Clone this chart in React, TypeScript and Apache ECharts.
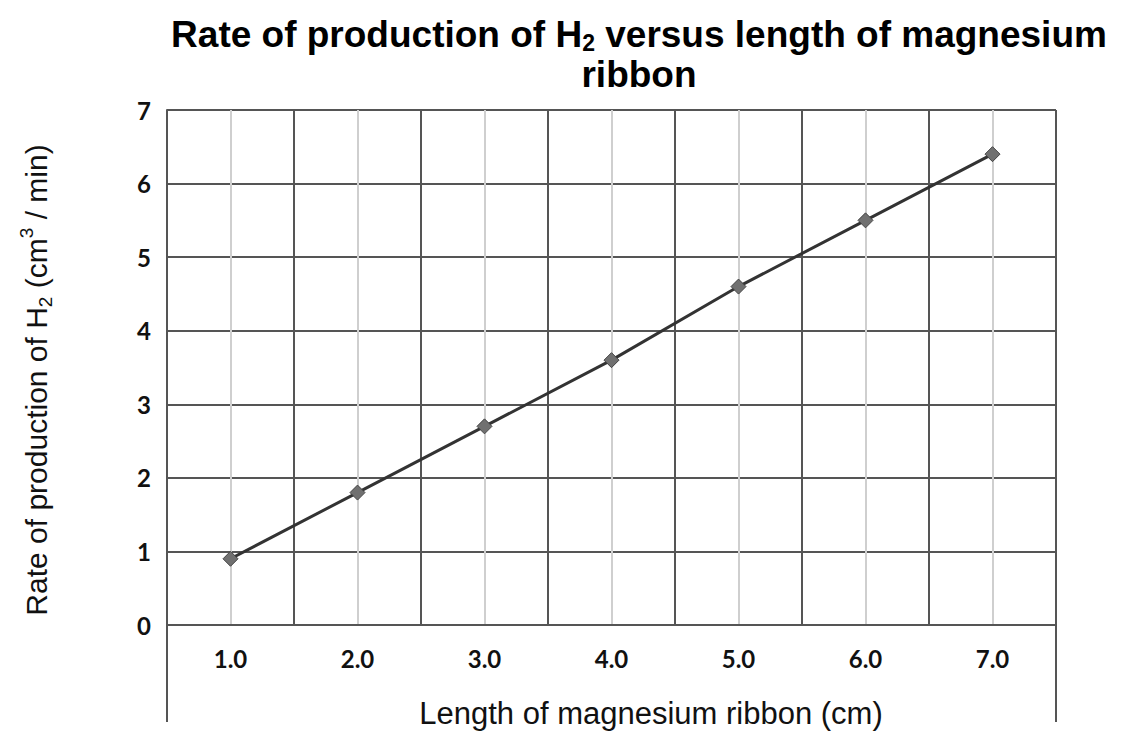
import React, { useEffect, useRef } from "react";
import * as echarts from "echarts";

const lengths = [1, 2, 3, 4, 5, 6, 7];
const rates = [0.9, 1.8, 2.7, 3.6, 4.6, 5.5, 6.4];
const yTicks = [0, 1, 2, 3, 4, 5, 6, 7];

export default function App() {
  const ref = useRef<HTMLDivElement>(null);
  useEffect(() => {
    document.body.style.margin = "0";
    const chart = echarts.init(ref.current!, null, { renderer: "svg" });
    const tickFont = { fontFamily: "Lato", fontWeight: "bold", fontSize: 24, color: "#111" };
    chart.setOption({
      animation: false,
      backgroundColor: "#ffffff",
      grid: { left: 167, right: 1127 - 1056, top: 110, bottom: 733 - 625, containLabel: false },
      xAxis: {
        type: "value",
        min: 0.5,
        max: 7.5,
        interval: 0.5,
        axisLine: { show: true, lineStyle: { color: "#555", width: 2 } },
        axisTick: { show: false },
        axisLabel: {
          ...tickFont,
          margin: 21,
          showMinLabel: true,
          showMaxLabel: true,
          formatter: (v: number) => (Math.abs(v - Math.round(v)) < 1e-6 ? v.toFixed(1) : ""),
        },
        splitLine: { show: true, lineStyle: { color: ["#555555", "#cfcfcf"], width: 2 } },
      },
      yAxis: {
        type: "value",
        min: yTicks[0],
        max: yTicks[yTicks.length - 1],
        interval: 1,
        axisLine: { show: true, lineStyle: { color: "#555", width: 2 } },
        axisTick: { show: false },
        axisLabel: { ...tickFont, margin: 16 },
        splitLine: { show: true, lineStyle: { color: "#555555", width: 2 } },
      },
      series: [
        {
          type: "line",
          data: lengths.map((x, i) => [x, rates[i]]),
          symbol: "diamond",
          symbolSize: 15,
          itemStyle: { color: "#707070", borderColor: "#444", borderWidth: 1 },
          lineStyle: { color: "#333", width: 3 },
        },
      ],
      graphic: [
        {
          type: "text",
          x: 639,
          y: 54,
          style: {
            text: "{t|Rate of production of H}{ts|2}{t| versus length of magnesium}\n{t|ribbon}",
            align: "center",
            verticalAlign: "middle",
            fill: "#000",
            rich: {
              t: { fontFamily: "Liberation Sans", fontWeight: "bold", fontSize: 37, lineHeight: 40, fill: "#000" },
              ts: { fontFamily: "Liberation Sans", fontWeight: "bold", fontSize: 23, lineHeight: 24, verticalAlign: "bottom", fill: "#000" },
            },
          },
        },
        {
          type: "text",
          x: 36,
          y: 380,
          rotation: Math.PI / 2,
          style: {
            text: "{t|Rate of production of H}{sb|2}{t| (cm}{sp|3}{t| / min)}",
            align: "center",
            verticalAlign: "middle",
            fill: "#111",
            rich: {
              t: { fontFamily: "Liberation Sans", fontSize: 30, lineHeight: 38, fill: "#111" },
              sb: { fontFamily: "Liberation Sans", fontSize: 19, lineHeight: 22, verticalAlign: "bottom", fill: "#111" },
              sp: { fontFamily: "Liberation Sans", fontSize: 19, lineHeight: 22, verticalAlign: "top", fill: "#111" },
            },
          },
        },
        {
          type: "text",
          x: 651,
          y: 713,
          style: {
            text: "Length of magnesium ribbon (cm)",
            align: "center",
            verticalAlign: "middle",
            fontFamily: "Liberation Sans",
            fontSize: 31,
            fill: "#111",
          },
        },
        {
          type: "line",
          shape: { x1: 167, y1: 625, x2: 167, y2: 722 },
          style: { stroke: "#555", lineWidth: 2 },
        },
        {
          type: "line",
          shape: { x1: 1056, y1: 625, x2: 1056, y2: 722 },
          style: { stroke: "#555", lineWidth: 2 },
        },
      ],
    });
    return () => chart.dispose();
  }, []);
  return <div ref={ref} style={{ width: 1127, height: 733 }} />;
}
